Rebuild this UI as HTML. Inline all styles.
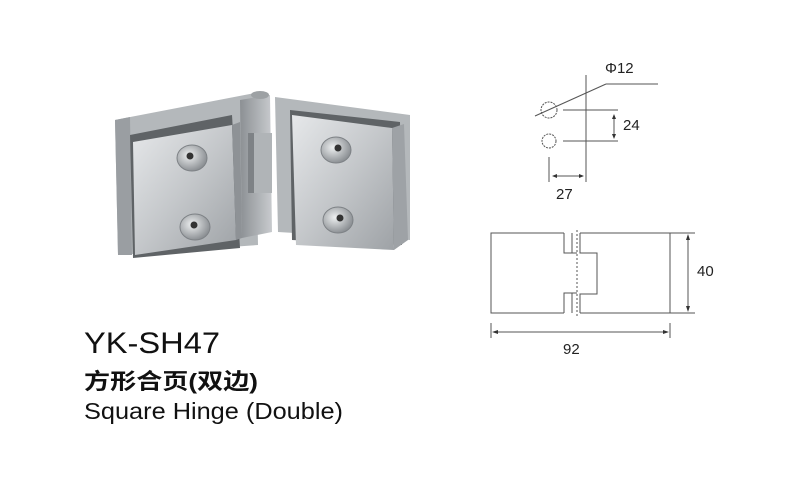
<!DOCTYPE html>
<html><head><meta charset="utf-8"><style>
html,body{margin:0;padding:0;background:#fff;}
svg{display:block;}
</style></head><body>
<svg width="800" height="480" viewBox="0 0 800 480" xmlns="http://www.w3.org/2000/svg">
<defs>
<linearGradient id="g1" x1="0" y1="0" x2="1" y2="1">
<stop offset="0" stop-color="#e6e8ea"/><stop offset="0.5" stop-color="#c4c7ca"/><stop offset="1" stop-color="#9ea2a6"/></linearGradient>
<linearGradient id="g2" x1="0" y1="0" x2="1" y2="0">
<stop offset="0" stop-color="#8c9094"/><stop offset="1" stop-color="#c8cbce"/></linearGradient>
<radialGradient id="sc" cx="0.4" cy="0.4" r="0.6"><stop offset="0" stop-color="#eef0f1"/><stop offset="1" stop-color="#8d9195"/></radialGradient>
</defs>
<!-- photo: left wing -->
<polygon points="115,120 255,93 258,245 118,255" fill="#b4b8bb"/>
<polygon points="115,120 130,117 132,255 118,255" fill="#9a9ea2"/>
<polygon points="130,135 232,115 240,248 133,258" fill="#5f6366"/>
<polygon points="133,142 232,125 236,240 135,255" fill="url(#g1)"/>
<polygon points="232,125 240,122 242,238 236,240" fill="#8e9296"/>
<!-- center hinge -->
<polygon points="240,100 270,95 272,232 242,238" fill="url(#g2)"/>
<rect x="250" y="133" width="22" height="60" fill="#b0b4b7"/>
<rect x="248" y="133" width="6" height="60" fill="#7e8286"/>
<ellipse cx="260" cy="95" rx="9" ry="4" fill="#9da1a4"/>
<!-- right wing -->
<polygon points="275,97 410,115 410,240 278,232" fill="#b4b8bb"/>
<polygon points="290,110 400,122 402,245 292,240" fill="#5f6366"/>
<polygon points="292,115 392,128 394,250 296,245" fill="url(#g1)"/>
<polygon points="392,128 404,124 408,240 394,250" fill="#9ea2a6"/>
<!-- screws -->
<g stroke="#7d8185" stroke-width="1">
<ellipse cx="192" cy="158" rx="15" ry="13" fill="url(#sc)"/>
<ellipse cx="195" cy="227" rx="15" ry="13" fill="url(#sc)"/>
<ellipse cx="336" cy="150" rx="15" ry="13" fill="url(#sc)"/>
<ellipse cx="338" cy="220" rx="15" ry="13" fill="url(#sc)"/>
</g>
<g fill="#333">
<circle cx="190" cy="156" r="3.5"/><circle cx="194" cy="225" r="3.5"/>
<circle cx="338" cy="148" r="3.5"/><circle cx="340" cy="218" r="3.5"/>
</g>

<!-- top drawing -->
<g stroke="#555" stroke-width="1" fill="none">
<line x1="586" y1="75" x2="586" y2="182"/>
<circle cx="549" cy="110" r="8" stroke-dasharray="2,1"/>
<circle cx="549" cy="141" r="7" stroke-dasharray="2,1"/>
<line x1="563" y1="110" x2="618" y2="110"/>
<line x1="563" y1="141" x2="618" y2="141"/>
<line x1="535" y1="116" x2="606" y2="84"/>
<line x1="606" y1="84" x2="658" y2="84"/>
<line x1="614" y1="116" x2="614" y2="137"/>
<line x1="549" y1="157" x2="549" y2="182"/>
<line x1="553" y1="176" x2="583" y2="176"/>
</g>
<g fill="#333">
<polygon points="614,114 612,119 616,119"/><polygon points="614,139 612,134 616,134"/>
<polygon points="552,176 557,174 557,178"/><polygon points="584,176 579,174 579,178"/>
</g>
<g font-family="Liberation Sans, sans-serif" font-size="15" fill="#222">
<text x="605" y="73">Φ12</text>
<text x="623" y="130">24</text>
<text x="556" y="199">27</text>
<text x="697" y="276">40</text>
<text x="563" y="354">92</text>
</g>
<!-- bottom drawing -->
<g stroke="#555" stroke-width="1" fill="none">
<polyline points="564,233 491,233 491,313 564,313"/>
<polyline points="580,233 670,233 670,313 580,313"/>
<polyline points="564,233 564,253 577,253"/>
<polyline points="564,313 564,293 577,293"/>
<polyline points="580,233 580,253 597,253 597,294 580,294 580,313"/>
<line x1="572" y1="233" x2="572" y2="253"/>
<line x1="572" y1="293" x2="572" y2="313"/>
<line x1="577" y1="230" x2="577" y2="318" stroke-dasharray="2,2"/>
<line x1="665" y1="233" x2="695" y2="233"/>
<line x1="665" y1="313" x2="695" y2="313"/>
<line x1="688" y1="236" x2="688" y2="310"/>
<line x1="491" y1="323" x2="491" y2="338"/>
<line x1="670" y1="323" x2="670" y2="338"/>
<line x1="494" y1="332" x2="667" y2="332"/>
</g>
<g fill="#333">
<polygon points="688,234 686,240 690,240"/><polygon points="688,312 686,306 690,306"/>
<polygon points="492,332 498,330 498,334"/><polygon points="669,332 663,330 663,334"/>
</g>

<!-- captions -->
<text x="84" y="353" font-family="Liberation Sans, sans-serif" font-size="30" fill="#111" textLength="136" lengthAdjust="spacingAndGlyphs">YK-SH47</text>
<text x="84" y="389" font-family="Liberation Sans, 'Noto Sans CJK SC', sans-serif" font-size="22" font-weight="bold" fill="#111" textLength="174" lengthAdjust="spacingAndGlyphs">方形合页(双边)</text>
<text x="84" y="419" font-family="Liberation Sans, sans-serif" font-size="23" fill="#111" textLength="259" lengthAdjust="spacingAndGlyphs">Square Hinge (Double)</text>
</svg>
</body></html>
